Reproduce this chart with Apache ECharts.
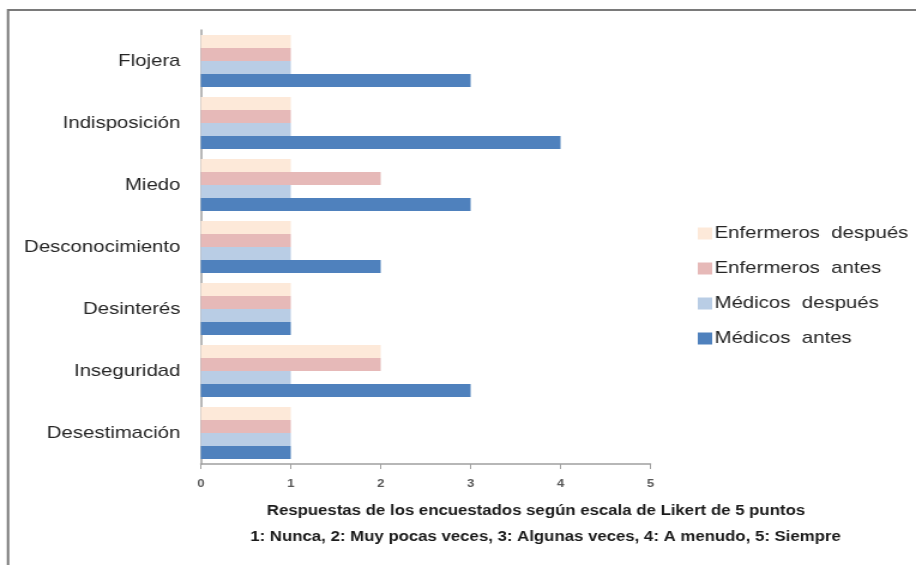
<!DOCTYPE html>
<html>
<head>
<meta charset="utf-8">
<script src="https://cdn.jsdelivr.net/npm/echarts@6/dist/echarts.min.js"></script>
<style>
  html, body { margin: 0; padding: 0; background: #ffffff; overflow: hidden; }
  /* The figure is laid out on a narrower canvas and widened horizontally,
     giving the stretched lettering of the original figure. */
  #chart { width: 764px; height: 565px; transform: scaleX(1.19895); transform-origin: 0 0; }
</style>
</head>
<body>
<div id="chart"></div>
<script>
// Categories listed bottom-to-top along the vertical axis
const categories = ['Desestimación', 'Inseguridad', 'Desinterés', 'Desconocimiento', 'Miedo', 'Indisposición', 'Flojera'];

// Likert responses per group (1 = Nunca ... 5 = Siempre)
const enfermerosDespues  = [1, 2, 1, 1, 1, 1, 1];
const enfermerosAntes    = [1, 2, 1, 1, 2, 1, 1];
const medicosDespues     = [1, 1, 1, 1, 1, 1, 1];
const medicosAntes       = [1, 3, 1, 2, 3, 4, 3];

const xTicks = [0, 1, 2, 3, 4, 5];

// Series in drawing order within each band (top to bottom)
const seriesNames = ['Enfermeros  después', 'Enfermeros  antes', 'Médicos  después', 'Médicos  antes'];
const seriesColors = ['#fde9d9', '#e6b9b8', '#b9cde5', '#4f81bd'];
const seriesValues = [enfermerosDespues, enfermerosAntes, medicosDespues, medicosAntes];

const FONT = 'Liberation Sans, Arial, sans-serif';

const chart = echarts.init(document.getElementById('chart'));

chart.setOption({
  animation: false,
  backgroundColor: '#ffffff',
  grid: { left: 167.5, right: 221.5, top: 30, bottom: 101, containLabel: false },
  legend: {
    orient: 'vertical',
    left: 577,
    top: 220,
    itemWidth: 12,
    itemHeight: 12,
    itemGap: 18,
    itemStyle: { borderWidth: 0 },
    textStyle: { fontFamily: FONT, fontSize: 17, color: '#262626', padding: [0, 0, 0, -3] },
    data: seriesNames.slice(),
    icon: 'rect'
  },
  xAxis: {
    type: 'value',
    min: xTicks[0],
    max: xTicks[xTicks.length - 1],
    interval: 1,
    splitLine: { show: false },
    axisLine: { show: true, lineStyle: { color: '#a0a0a0', width: 1.5 } },
    axisTick: { show: true, length: 5, lineStyle: { color: '#a0a0a0' } },
    axisLabel: {
      margin: 14,
      fontFamily: FONT,
      fontSize: 11,
      fontWeight: 'bold',
      color: '#595959'
    }
  },
  yAxis: {
    type: 'category',
    data: categories,
    axisLine: { show: true, lineStyle: { color: '#a0a0a0', width: 1.5 } },
    axisTick: { show: false },
    axisLabel: {
      margin: 17,
      fontFamily: FONT,
      fontSize: 17,
      color: '#262626'
    }
  },
  series: seriesNames.map((name, i) => ({
    name: name,
    type: 'bar',
    data: seriesValues[i],
    barGap: '0%',
    barCategoryGap: '16%',
    itemStyle: { color: seriesColors[i] }
  })),
  graphic: [
    {
      type: 'rect',
      silent: true,
      shape: { x: 6.7, y: 10, width: 1200, height: 1200 },
      style: { fill: 'none', stroke: '#7a7a7a', lineWidth: 2 }
    },
    {
      type: 'text',
      x: 447,
      y: 511,
      style: {
        text: 'Respuestas de los encuestados según escala de Likert de 5 puntos',
        align: 'center',
        verticalAlign: 'middle',
        fontFamily: FONT,
        fontSize: 14,
        fontWeight: 'bold',
        fill: '#1a1a1a'
      }
    },
    {
      type: 'text',
      x: 455,
      y: 537,
      style: {
        text: '1: Nunca, 2: Muy pocas veces, 3: Algunas veces, 4: A menudo, 5: Siempre',
        align: 'center',
        verticalAlign: 'middle',
        fontFamily: FONT,
        fontSize: 14,
        fontWeight: 'bold',
        fill: '#1a1a1a'
      }
    }
  ]
});
</script>
</body>
</html>
